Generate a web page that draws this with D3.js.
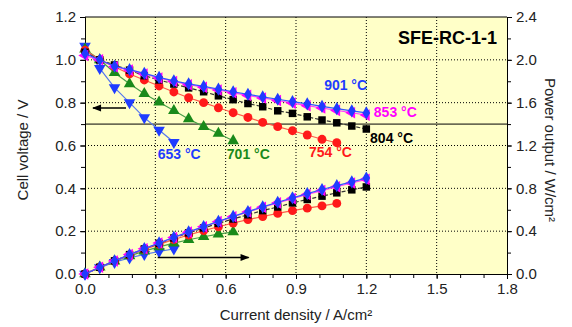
<!DOCTYPE html>
<html>
<head>
<meta charset="utf-8">
<script src="https://cdn.jsdelivr.net/npm/d3@7"></script>
<style>
  body { margin: 0; background: #fff; }
  svg text { font-family: "Liberation Sans", Arial, sans-serif; }
</style>
</head>
<body>
<svg class="main-chart" width="572" height="327"></svg>
<script>
// current density (A/cm2) shared by all curves
var current = [0, 0.063, 0.126, 0.190, 0.253, 0.316, 0.379, 0.442, 0.506, 0.569,
               0.632, 0.695, 0.758, 0.822, 0.885, 0.948, 1.011, 1.074, 1.138, 1.200];

// cell voltage (V)
var v653 = [1.064, 0.96, 0.87, 0.80, 0.73, 0.672, 0.615];
var v701 = [1.05, 1.00, 0.94, 0.888, 0.842, 0.802, 0.763, 0.724, 0.688, 0.656, 0.622];
var v754 = [1.045, 1.00, 0.968, 0.934, 0.906, 0.878, 0.85, 0.823, 0.80, 0.776, 0.753, 0.731,
            0.708, 0.688, 0.669, 0.649, 0.629, 0.613];
var v804 = [1.035, 1.00, 0.976, 0.952, 0.926, 0.906, 0.887, 0.869, 0.851, 0.832, 0.814, 0.796,
            0.781, 0.762, 0.75, 0.734, 0.719, 0.706, 0.691, 0.677];
var v853 = [1.02, 1.00, 0.968, 0.952, 0.934, 0.915, 0.899, 0.884, 0.872, 0.859, 0.846, 0.834,
            0.822, 0.81, 0.798, 0.786, 0.775, 0.764, 0.753, 0.742];
var v901 = [1.03, 1.00, 0.97, 0.954, 0.937, 0.918, 0.902, 0.888, 0.876, 0.863, 0.851, 0.839,
            0.827, 0.816, 0.805, 0.794, 0.783, 0.772, 0.762, 0.752];

// power output (W/cm2)
var p653 = [0, 0.06, 0.11, 0.151, 0.183, 0.21, 0.234];
var p701 = [0, 0.063, 0.119, 0.169, 0.213, 0.253, 0.289, 0.320, 0.348, 0.373, 0.393];
var p754 = [0, 0.063, 0.122, 0.177, 0.229, 0.277, 0.322, 0.364, 0.405, 0.441, 0.476, 0.508,
            0.537, 0.566, 0.592, 0.615, 0.636, 0.659];
var p804 = [0, 0.063, 0.123, 0.181, 0.234, 0.286, 0.336, 0.384, 0.430, 0.473, 0.514, 0.553,
            0.592, 0.626, 0.664, 0.696, 0.727, 0.758, 0.786, 0.813];
var p853 = [0, 0.063, 0.122, 0.181, 0.236, 0.289, 0.341, 0.391, 0.441, 0.489, 0.535, 0.580,
            0.623, 0.664, 0.704, 0.742, 0.779, 0.815, 0.850, 0.884];
var p901 = [0, 0.063, 0.123, 0.181, 0.237, 0.290, 0.342, 0.393, 0.443, 0.491, 0.538, 0.583,
            0.627, 0.670, 0.711, 0.751, 0.789, 0.825, 0.861, 0.896];

var temps = ["653 °C", "701 °C", "754 °C", "804 °C", "853 °C", "901 °C"];
var xTicks = [0, 0.3, 0.6, 0.9, 1.2, 1.5, 1.8];
var yTicks = [0, 0.2, 0.4, 0.6, 0.8, 1.0, 1.2];
var y2Ticks = [0, 0.4, 0.8, 1.2, 1.6, 2.0, 2.4];

var series = [
  {name: temps[0], v: v653, p: p653, color: "#1f3cff", line: "#5577ee", sym: "down", dash: null},
  {name: temps[1], v: v701, p: p701, color: "#1a8a1a", line: "#4aa04a", sym: "up", dash: null},
  {name: temps[2], v: v754, p: p754, color: "#ff1a1a", line: "#ff5a4a", sym: "circle", dash: null},
  {name: temps[3], v: v804, p: p804, color: "#000000", line: "#333333", sym: "square", dash: "4,2"},
  {name: temps[4], v: v853, p: p853, color: "#ff00ff", line: "#ff44ff", sym: "left", dash: null},
  {name: temps[5], v: v901, p: p901, color: "#1f3cff", line: "#3355ff", sym: "diamond", dash: null}
];

var svg = d3.select("svg.main-chart");
var L = 85, R = 507, T = 17, B = 274;

var xScale = d3.scaleLinear().domain([0, 1.8]).range([L, R]);
var yScale = d3.scaleLinear().domain([0, 1.2]).range([B, T]);
var y2Scale = d3.scaleLinear().domain([0, 2.4]).range([B, T]);

svg.append("rect")
  .attr("x", L).attr("y", T).attr("width", R - L).attr("height", B - T)
  .style("fill", "#ffffc8");

// grid lines
svg.append("g").selectAll("line.gx")
  .data(xTicks.slice(1, -1)).enter().append("line")
  .attr("x1", d => xScale(d)).attr("x2", d => xScale(d))
  .attr("y1", T).attr("y2", B)
  .style("stroke", "#000").style("stroke-width", 1).style("stroke-dasharray", "1,2");
svg.append("g").selectAll("line.gy")
  .data(yTicks.slice(1, -1)).enter().append("line")
  .attr("x1", L).attr("x2", R)
  .attr("y1", d => yScale(d)).attr("y2", d => yScale(d))
  .style("stroke", "#000").style("stroke-width", 1).style("stroke-dasharray", "1,2");

// solid reference line at 0.7 V
svg.append("line")
  .attr("x1", L).attr("x2", R)
  .attr("y1", yScale(0.7)).attr("y2", yScale(0.7))
  .style("stroke", "#000").style("stroke-width", 1);

// axes
var fmt = d3.format(".1f");
function styleAxis(g) {
  g.selectAll("text").style("font-size", "15px").style("fill", "#222");
  g.selectAll("line").style("stroke", "#000");
  g.select(".domain").style("stroke", "#000");
}
svg.append("g").attr("id", "xAxisG").attr("transform", "translate(0," + B + ")")
  .call(d3.axisBottom(xScale).tickValues(d3.range(0, 1.81, 0.1)).tickSize(4).tickFormat(""))
svg.append("g").attr("transform", "translate(0," + B + ")")
  .call(d3.axisBottom(xScale).tickValues(xTicks).tickSize(5).tickPadding(4).tickFormat(fmt))
  .call(styleAxis);
svg.append("g").attr("transform", "translate(" + L + ",0)")
  .call(d3.axisLeft(yScale).tickValues(d3.range(0, 1.21, 0.1)).tickSize(4).tickFormat(""));
svg.append("g").attr("id", "yAxisG").attr("transform", "translate(" + L + ",0)")
  .call(d3.axisLeft(yScale).tickValues(yTicks).tickSize(5).tickPadding(4).tickFormat(fmt))
  .call(styleAxis);
svg.append("g").attr("transform", "translate(" + R + ",0)")
  .call(d3.axisRight(y2Scale).tickValues(d3.range(0, 2.41, 0.2)).tickSize(4).tickFormat(""));
svg.append("g").attr("transform", "translate(" + R + ",0)")
  .call(d3.axisRight(y2Scale).tickValues(y2Ticks).tickSize(5).tickPadding(4).tickFormat(fmt))
  .call(styleAxis);
svg.append("line").attr("x1", L).attr("x2", R).attr("y1", T).attr("y2", T)
  .style("stroke", "#000");

// curves
var symbols = {
  down: {type: d3.symbolTriangle, size: 58, rot: 180},
  up: {type: d3.symbolTriangle, size: 58, rot: 0},
  left: {type: d3.symbolTriangle, size: 58, rot: -90},
  circle: {type: d3.symbolCircle, size: 62, rot: 0},
  square: {type: d3.symbolSquare, size: 56, rot: 0},
  diamond: {type: d3.symbolDiamond, size: 50, rot: 0}
};

series.forEach(function(s) {
  var vPts = s.v.map((d, i) => [current[i], d]);
  var pPts = s.p.map((d, i) => [current[i], d]);
  var sy = symbols[s.sym];
  [[vPts, yScale], [pPts, y2Scale]].forEach(function(pair) {
    var pts = pair[0], sc = pair[1];
    svg.append("path")
      .datum(pts)
      .attr("d", d3.line().x(d => xScale(d[0])).y(d => sc(d[1])))
      .style("fill", "none")
      .style("stroke", s.line)
      .style("stroke-width", 1.2)
      .style("stroke-dasharray", s.dash);
    svg.append("g").selectAll("path")
      .data(pts).enter().append("path")
      .attr("d", d3.symbol().type(sy.type).size(sy.size))
      .attr("transform", d => "translate(" + xScale(d[0]) + "," + sc(d[1]) + ")rotate(" + sy.rot + ")")
      .style("fill", s.color);
  });
});

// arrows
svg.append("defs").append("marker")
  .attr("id", "ah").attr("viewBox", "0 0 10 10").attr("refX", 9).attr("refY", 5)
  .attr("markerWidth", 7).attr("markerHeight", 6).attr("orient", "auto")
  .append("path").attr("d", "M0,1L10,5L0,9Z").style("fill", "#000");
svg.append("line")
  .attr("x1", xScale(0.175)).attr("x2", xScale(0.034))
  .attr("y1", yScale(0.775)).attr("y2", yScale(0.775))
  .style("stroke", "#000").style("stroke-width", 1.5).attr("marker-end", "url(#ah)");
svg.append("line")
  .attr("x1", xScale(0.31)).attr("x2", xScale(0.698))
  .attr("y1", yScale(0.077)).attr("y2", yScale(0.077))
  .style("stroke", "#000").style("stroke-width", 1.5).attr("marker-end", "url(#ah)");

// temperature labels
var labelPos = [[0.31, 0.538, "#1f3cff"], [0.605, 0.538, "#1a8a1a"], [0.955, 0.545, "#ff1a1a"],
                [1.216, 0.61, "#000"], [1.232, 0.735, "#ff00ff"], [1.02, 0.86, "#1f3cff"]];
svg.append("g").selectAll("text")
  .data(temps).enter().append("text")
  .attr("x", (d, i) => xScale(labelPos[i][0]))
  .attr("y", (d, i) => yScale(labelPos[i][1]))
  .text(d => d)
  .style("fill", (d, i) => labelPos[i][2])
  .style("font-size", "14px").style("font-weight", "bold");

svg.append("text")
  .attr("x", 497).attr("y", 44).attr("text-anchor", "end")
  .text("SFE-RC-1-1")
  .style("font-size", "18px").style("font-weight", "bold").style("fill", "#000");

// axis titles
svg.append("text")
  .attr("transform", "translate(28,150)rotate(-90)").attr("text-anchor", "middle")
  .text("Cell voltage / V").style("font-size", "15px").style("fill", "#222");
svg.append("text")
  .attr("transform", "translate(545,150)rotate(90)").attr("text-anchor", "middle")
  .text("Power output / W/cm²").style("font-size", "15px").style("fill", "#222");
svg.append("text")
  .attr("x", (L + R) / 2).attr("y", 320).attr("text-anchor", "middle")
  .text("Current density / A/cm²").style("font-size", "15px").style("fill", "#222");
</script>
</body>
</html>
